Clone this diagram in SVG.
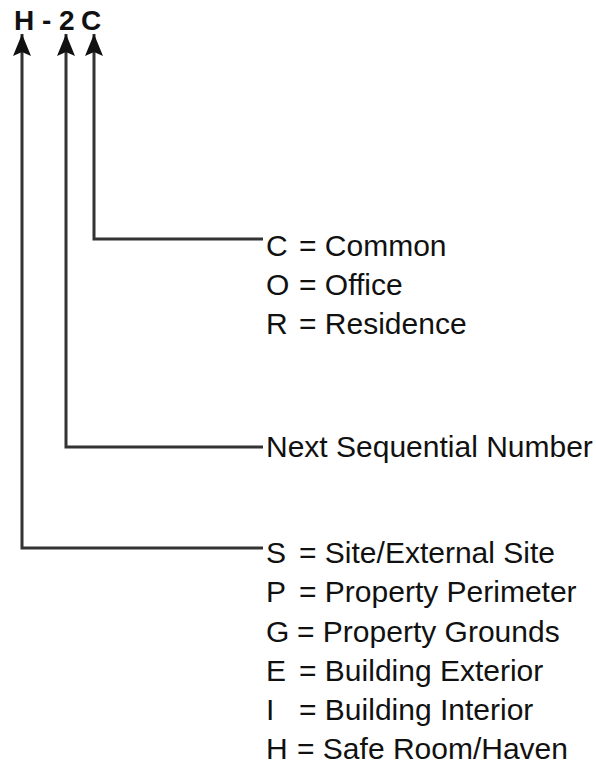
<svg xmlns="http://www.w3.org/2000/svg" width="596" height="766" viewBox="0 0 596 766">
<style>
.t{font-family:"Liberation Sans",Arial,sans-serif;font-size:30px;fill:#111}
.h{font-family:"Liberation Sans",Arial,sans-serif;font-size:28px;font-weight:bold;fill:#111}
.c{fill:none;stroke:#333;stroke-width:3}
</style>
<defs>
<marker id="ah" viewBox="0 0 22 18" refX="22" refY="9" markerWidth="22" markerHeight="18" markerUnits="userSpaceOnUse" orient="auto-start-reverse">
<path d="M22 9 L0 0 L4 9 L0 18 Z" fill="#111"/>
</marker>
</defs>
<rect width="596" height="766" fill="#fff"/>
<g id="code">
<text class="h" x="14" y="30">H</text>
<text class="h" x="42" y="30">-</text>
<text class="h" x="59" y="30">2</text>
<text class="h" x="81" y="30">C</text>
</g>
<g id="connectors">
<path class="c" d="M94 34 V239 H263" marker-start="url(#ah)"/>
<path class="c" d="M66 34 V447 H263" marker-start="url(#ah)"/>
<path class="c" d="M22 34 V548 H263" marker-start="url(#ah)"/>
</g>
<g id="type">
<text class="t" x="266" y="256">C</text><text class="t" x="299" y="256">= Common</text>
<text class="t" x="266" y="295">O</text><text class="t" x="299" y="295">= Office</text>
<text class="t" x="266" y="334">R</text><text class="t" x="299" y="334">= Residence</text>
</g>
<g id="number">
<text class="t" x="266" y="457">Next Sequential Number</text>
</g>
<g id="location">
<text class="t" x="266" y="563">S</text><text class="t" x="299" y="563">= Site/External Site</text>
<text class="t" x="266" y="602">P</text><text class="t" x="299" y="602">= Property Perimeter</text>
<text class="t" x="266" y="642">G</text><text class="t" x="297" y="642">= Property Grounds</text>
<text class="t" x="266" y="681">E</text><text class="t" x="299" y="681">= Building Exterior</text>
<text class="t" x="266" y="720">I</text><text class="t" x="299" y="720">= Building Interior</text>
<text class="t" x="266" y="759">H</text><text class="t" x="297" y="759">= Safe Room/Haven</text>
</g>
</svg>
